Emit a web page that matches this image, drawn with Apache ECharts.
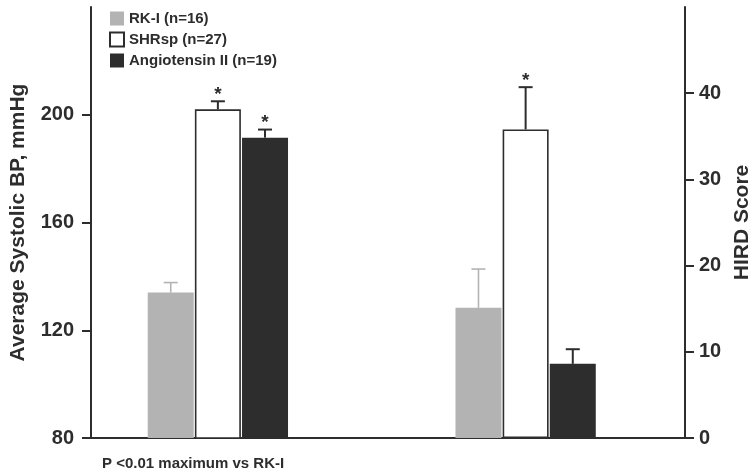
<!DOCTYPE html>
<html>
<head>
<meta charset="utf-8">
<script src="https://cdn.jsdelivr.net/npm/echarts@6/dist/echarts.min.js"></script>
<style>html,body{margin:0;padding:0;background:#fff}#c{width:754px;height:474px}</style>
</head>
<body>
<div id="c"></div>
<script>
// ---- data ----
var groups = ['Average Systolic BP', 'HIRD Score'];
var seriesNames = ['RK-I (n=16)', 'SHRsp (n=27)', 'Angiotensin II (n=19)'];
var bpMean = [134, 202, 191.5];
var bpErr = [3.7, 3, 3];
var bpSig = [false, true, true];
var hirdMean = [15.1, 35.8, 8.6];
var hirdErr = [4.5, 4.9, 1.7];
var hirdSig = [false, true, false];
var bpTicks = [80, 120, 160, 200];
var hirdTicks = [0, 10, 20, 30, 40];
var footnote = 'P <0.01 maximum vs RK-I';

// ---- style ----
var FONT = '"Liberation Sans", Arial, sans-serif';
var INK = '#2d2d2d';
var fills = ['#b3b3b3', '#ffffff', '#2d2d2d'];
var borders = ['#b3b3b3', '#2d2d2d', '#2d2d2d'];
var errColors = ['#b3b3b3', '#2d2d2d', '#2d2d2d'];
var BAR_W = 46, GAP = 0.025;
var PITCH = BAR_W * (1 + GAP);

var chart = echarts.init(document.getElementById('c'), null, {renderer: 'canvas'});

function makeBars(means, xi, yi, catIdx) {
  return means.map(function (v, i) {
    var d = groups.map(function (g, k) { return k === catIdx ? v : '-'; });
    return {
      type: 'bar', name: seriesNames[i], xAxisIndex: xi, yAxisIndex: yi,
      data: d, barWidth: BAR_W, barGap: (GAP * 100) + '%',
      itemStyle: {color: fills[i], borderColor: borders[i], borderWidth: i === 1 ? 1.6 : 0},
      emphasis: {disabled: true}, animation: false
    };
  });
}

function makeErr(means, errs, sigs, xi, yi, catIdx) {
  return {
    type: 'custom', xAxisIndex: xi, yAxisIndex: yi, z: 5, animation: false, silent: true,
    data: means.map(function (v, i) { return [catIdx, i, v, errs[i], sigs[i] ? 1 : 0]; }),
    encode: {x: 0, y: 2},
    renderItem: function (params, api) {
      var slot = api.value(1), m = api.value(2), e = api.value(3), s = api.value(4);
      var top = api.coord([api.value(0), m + e]);
      var base = api.coord([api.value(0), m]);
      var x = top[0] + (slot - 1) * PITCH;
      var col = errColors[slot];
      var lw = slot === 0 ? 1.6 : 2;
      var children = [
        {type: 'line', shape: {x1: x, y1: base[1], x2: x, y2: top[1]}, style: {stroke: col, lineWidth: lw}},
        {type: 'line', shape: {x1: x - 7, y1: top[1], x2: x + 7, y2: top[1]}, style: {stroke: col, lineWidth: lw}}
      ];
      if (s) {
        children.push({type: 'text', x: x, y: top[1] + 3,
          style: {text: '*', fill: INK, font: 'bold 19px ' + FONT, align: 'center', verticalAlign: 'bottom'}});
      }
      return {type: 'group', children: children};
    }
  };
}

var axisLine = {show: true, lineStyle: {color: INK, width: 2}};
var labelStyle = {color: INK, fontSize: 20, fontWeight: 'bold', fontFamily: FONT};
var nameStyle = {color: INK, fontSize: 21, fontWeight: 'bold', fontFamily: FONT};

var option = {
  backgroundColor: '#fff',
  animation: false,
  title: {
    text: footnote, left: 97, top: 451,
    textStyle: {color: INK, fontSize: 15, fontWeight: 'bold', fontFamily: FONT}
  },
  legend: {
    data: seriesNames, orient: 'vertical', left: 104, top: 6,
    itemWidth: 14, itemHeight: 14, itemGap: 5.5, icon: 'rect',
    textStyle: {color: INK, fontSize: 15, fontWeight: 'bold', fontFamily: FONT, padding: [0, 0, 0, 0]},
    selectedMode: false
  },
  grid: [
    {left: 91, right: 69, top: 7, bottom: 36, containLabel: false, outerBoundsMode: 'none'},
    {left: 64, right: 74.5, top: 7, bottom: 36, containLabel: false, outerBoundsMode: 'none'}
  ],
  xAxis: [
    {type: 'category', gridIndex: 0, data: groups, axisLine: axisLine,
     axisTick: {show: false}, axisLabel: {show: false}, splitLine: {show: false}},
    {type: 'category', gridIndex: 1, data: groups, show: false},
    {type: 'category', gridIndex: 1, data: groups, show: false}
  ],
  yAxis: [
    {type: 'value', gridIndex: 0, position: 'left', min: 80, max: 240, interval: 40,
     name: 'Average Systolic BP, mmHg', nameLocation: 'middle', nameGap: 62, nameRotate: 90,
     nameTextStyle: nameStyle,
     axisLine: axisLine, axisTick: {show: true, inside: false, length: 9, lineStyle: {color: INK, width: 2}, customValues: bpTicks},
     axisLabel: Object.assign({margin: 17, customValues: bpTicks}, labelStyle),
     splitLine: {show: false}},
    {type: 'value', gridIndex: 0, position: 'right', min: 0, max: 50, interval: 10,
     name: 'HIRD Score', nameLocation: 'middle', nameGap: 47, nameRotate: 90,
     nameTextStyle: nameStyle,
     axisLine: axisLine, axisTick: {show: true, inside: false, length: 9, lineStyle: {color: INK, width: 2}, customValues: hirdTicks},
     axisLabel: Object.assign({margin: 14, customValues: hirdTicks}, labelStyle),
     splitLine: {show: false}},
    {type: 'value', gridIndex: 1, min: 80, max: 240, show: false},
    {type: 'value', gridIndex: 1, min: 0, max: 50, show: false}
  ],
  series: []
    .concat(makeBars(bpMean, 1, 2, 0))
    .concat(makeBars(hirdMean, 2, 3, 1))
    .concat([makeErr(bpMean, bpErr, bpSig, 1, 2, 0), makeErr(hirdMean, hirdErr, hirdSig, 2, 3, 1)])
};
chart.setOption(option);
</script>
</body>
</html>
